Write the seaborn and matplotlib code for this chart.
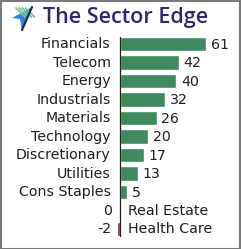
import matplotlib
matplotlib.use("Agg")
import matplotlib.pyplot as plt
import seaborn as sns
import pandas as pd
from matplotlib.patches import Polygon, Rectangle
from matplotlib.lines import Line2D

categories = ["Financials", "Telecom", "Energy", "Industrials", "Materials",
              "Technology", "Discretionary", "Utilities", "Cons Staples",
              "Real Estate", "Health Care"]
values = [61, 42, 40, 32, 26, 20, 17, 13, 5, 0, -2]
title = "The Sector Edge"

sns.set_theme(style="white")
plt.rcParams['font.family'] = ['DejaVu Sans']

W, H = 241, 249
fig = plt.figure(figsize=(W / 100, H / 100), dpi=100)
fig.patch.set_facecolor("white")

# axes: zero at x=120px, 1.41 px per unit
ax = fig.add_axes([0, 10.75 / H, 1, 203.5 / H])
ax.set_facecolor("none")
df = pd.DataFrame({"cat": categories, "val": values})
pal = ["#3e8a5e" if v >= 0 else "#8a2b2b" for v in values]
sns.barplot(data=df, x="val", y="cat", hue="cat", palette=pal, legend=False,
            orient="h", width=0.76, ax=ax, saturation=1)
ax.set_xlim(-120 / 1.41, 121 / 1.41)
ax.set_ylim(10.5, -0.5)
for s in ax.spines.values():
    s.set_visible(False)
ax.set_xticks([])
ax.set_yticks([])
ax.set_xlabel("")
ax.set_ylabel("")
ax.axvline(0, ymin=0.01, ymax=0.99, color="#222222", lw=0.9)

fs = 10.2
tc = "#1e1e1e"
for i, (c, v) in enumerate(zip(categories, values)):
    if v > 0:
        ax.text(-6.5, i, c, ha="right", va="center", fontsize=fs, color=tc)
        ax.text(v + 3.2, i + 0.05, str(v), ha="left", va="center", fontsize=fs, color=tc)
    else:
        ax.text(-6.0, i, str(v), ha="right", va="center", fontsize=fs, color=tc)
        ax.text(6.0, i, c, ha="left", va="center", fontsize=fs, color=tc)

# title
fig.text(43 / W, 1 - 18 / H, title, ha="left", va="center", fontsize=15.5,
         color="#33246e", family=["Open Sans", "DejaVu Sans"], weight="semibold")

# logo
def px(x, y):
    return (x / W, 1 - y / H)

for k in range(4):
    x0 = 16 + k * 3.2
    fig.add_artist(Line2D([px(x0, 8)[0], px(x0 + 9, 17)[0]],
                          [px(x0, 8)[1], px(x0 + 9, 17)[1]],
                          transform=fig.transFigure, color="#7cc49a", lw=1.3))
fig.add_artist(Polygon([px(32, 7), px(12, 18), px(20, 19), px(22, 30)],
                       closed=True, transform=fig.transFigure,
                       facecolor="#2f86d6", edgecolor="none"))
fig.add_artist(Line2D([px(22, 30)[0], px(32, 7)[0]], [px(22, 30)[1], px(32, 7)[1]],
                      transform=fig.transFigure, color="#1d2a5c", lw=1.6))

# border
fig.add_artist(Rectangle((0.5 / W, 0.5 / H), 1 - 1.5 / W, 1 - 1.5 / H,
                         transform=fig.transFigure, fill=False,
                         edgecolor="#7a7a7a", lw=1.5))

fig.savefig("out.png", dpi=100)
